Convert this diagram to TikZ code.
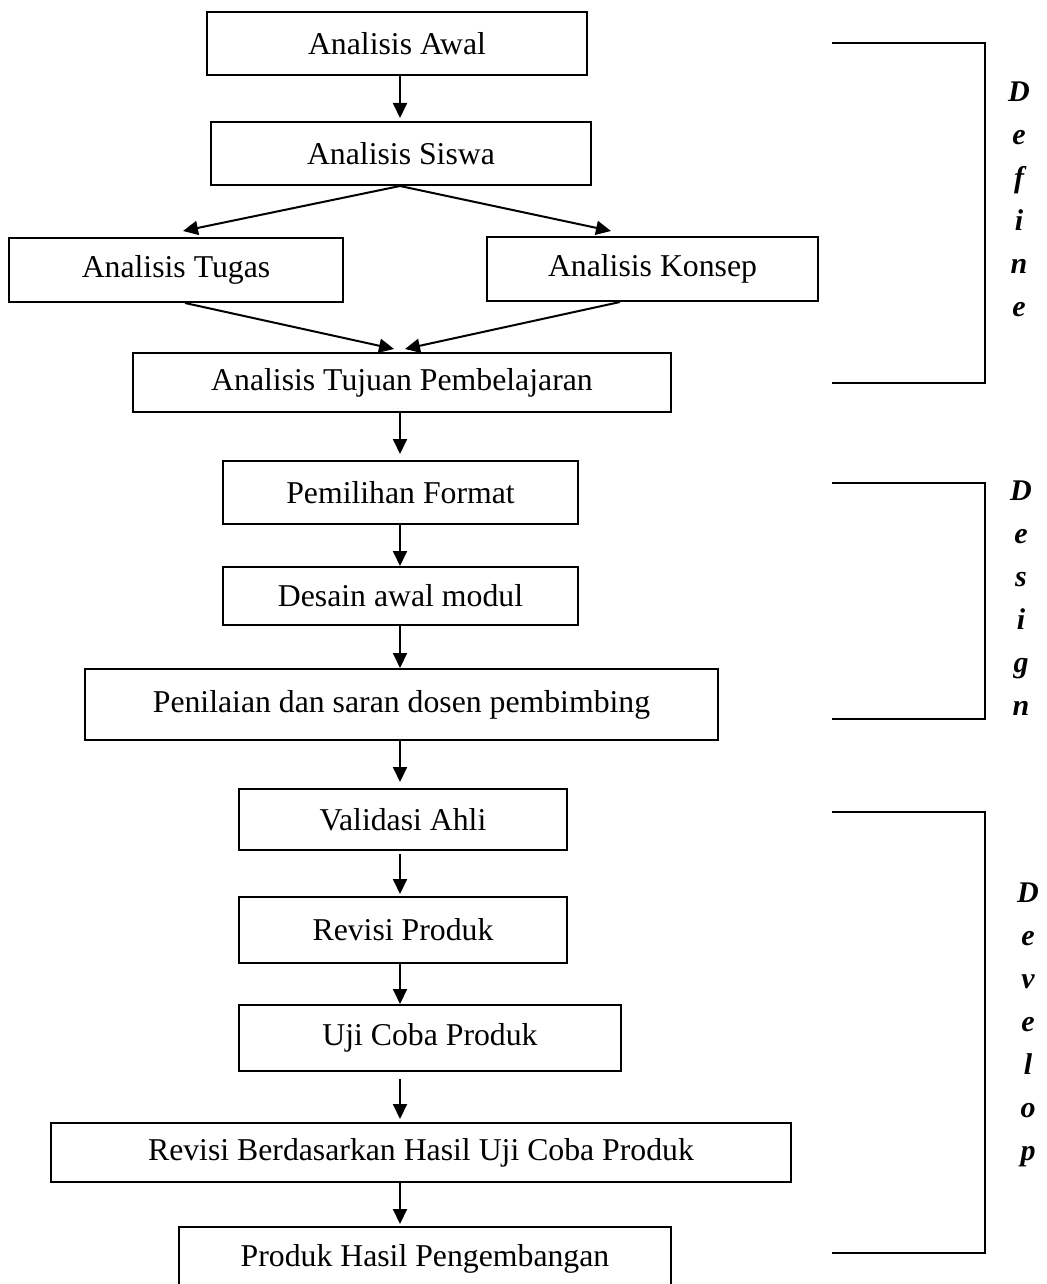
\documentclass[tikz,border=0pt]{standalone}
\usepackage{fontspec}
\setmainfont{Liberation Serif}
\usetikzlibrary{arrows.meta}
\tikzset{
  kotak/.style 2 args={draw, line width=0.8pt, minimum width=#1*0.4pt, minimum height=#2*0.4pt, inner sep=0pt, font=\fontsize{12.7}{15}\selectfont},
  huruf/.style={align=center, inner sep=0pt, font=\fontsize{12}{17.2}\selectfont\bfseries\itshape},
  panah/.style={->, line width=0.8pt},
  kurung/.style={line width=0.8pt}
}
\begin{document}
\begin{tikzpicture}[x=0.4pt, y=-0.4pt, >={Triangle[length=6pt,width=5.6pt]}]
\useasboundingbox (0,0) rectangle (1046,1284);
\coordinate (sumbu) at (400,0);
\node[kotak={380}{63}] (awal) at (397,43.5) {Analisis Awal};
\node[kotak={380}{63}] (siswa) at (401,153.5) {Analisis Siswa};
\node[kotak={334}{64}] (tugas) at (176,270) {Analisis Tugas};
\node[kotak={331}{64}] (konsep) at (652.5,269) {Analisis Konsep};
\node[kotak={538}{59}] (tujuan) at (402,382.5) {Analisis Tujuan Pembelajaran};
\node[kotak={355}{63}] (format) at (400.5,492.5) {Pemilihan Format};
\node[kotak={355}{58}] (desain) at (400.5,596) {Desain awal modul};
\node[kotak={633}{71}] (nilai) at (401.5,704.5) {Penilaian dan saran dosen pembimbing};
\node[kotak={328}{61}] (validasi) at (403,819.5) {Validasi Ahli};
\node[kotak={328}{66}] (revisi) at (403,930) {Revisi Produk};
\node[kotak={382}{66}] (ujicoba) at (430,1038) {Uji Coba Produk};
\node[kotak={740}{59}] (revhasil) at (421,1152.5) {Revisi Berdasarkan Hasil Uji Coba Produk};
\node[kotak={492}{64}] (produk) at (425,1259) {Produk Hasil Pengembangan};
\draw[panah, shorten >=1.2pt] (awal.south -| sumbu) -- (siswa.north -| sumbu);
\draw[panah] (siswa.south -| sumbu) -- ([shift={(7,-6)}]tugas.north);
\draw[panah] (siswa.south -| sumbu) -- ([shift={(-41.5,-5)}]konsep.north);
\draw[panah] ([shift={(9,0)}]tugas.south) -- ([shift={(-8,-3)}]tujuan.north);
\draw[panah] ([shift={(-32.5,0)}]konsep.south) -- ([shift={(3,-3)}]tujuan.north);
\draw[panah, shorten >=2.4pt] (tujuan.south -| sumbu) -- (format.north -| sumbu);
\draw[panah] (format.south -| sumbu) -- (desain.north -| sumbu);
\draw[panah] (desain.south -| sumbu) -- (nilai.north -| sumbu);
\draw[panah, shorten >=2.4pt] (nilai.south -| sumbu) -- (validasi.north -| sumbu);
\draw[panah, shorten <=1.2pt, shorten >=0.8pt] (validasi.south -| sumbu) -- (revisi.north -| sumbu);
\draw[panah] (revisi.south -| sumbu) -- (ujicoba.north -| sumbu);
\draw[panah, shorten <=2.8pt, shorten >=1.2pt] (ujicoba.south -| sumbu) -- (revhasil.north -| sumbu);
\draw[panah, shorten >=0.8pt] (revhasil.south -| sumbu) -- (produk.north -| sumbu);
\draw[kurung] (832,43) -- (985,43) -- (985,383) -- (832,383);
\draw[kurung] (832,483) -- (985,483) -- (985,719) -- (832,719);
\draw[kurung] (832,812) -- (985,812) -- (985,1253) -- (832,1253);
\node[huruf] (define) at (1019,199) {D\\e\\f\\i\\n\\e};
\node[huruf] (design) at (1021,598) {D\\e\\s\\i\\g\\n};
\node[huruf] (develop) at (1028,1025) {D\\e\\v\\e\\l\\o\\p};
\end{tikzpicture}
\end{document}
